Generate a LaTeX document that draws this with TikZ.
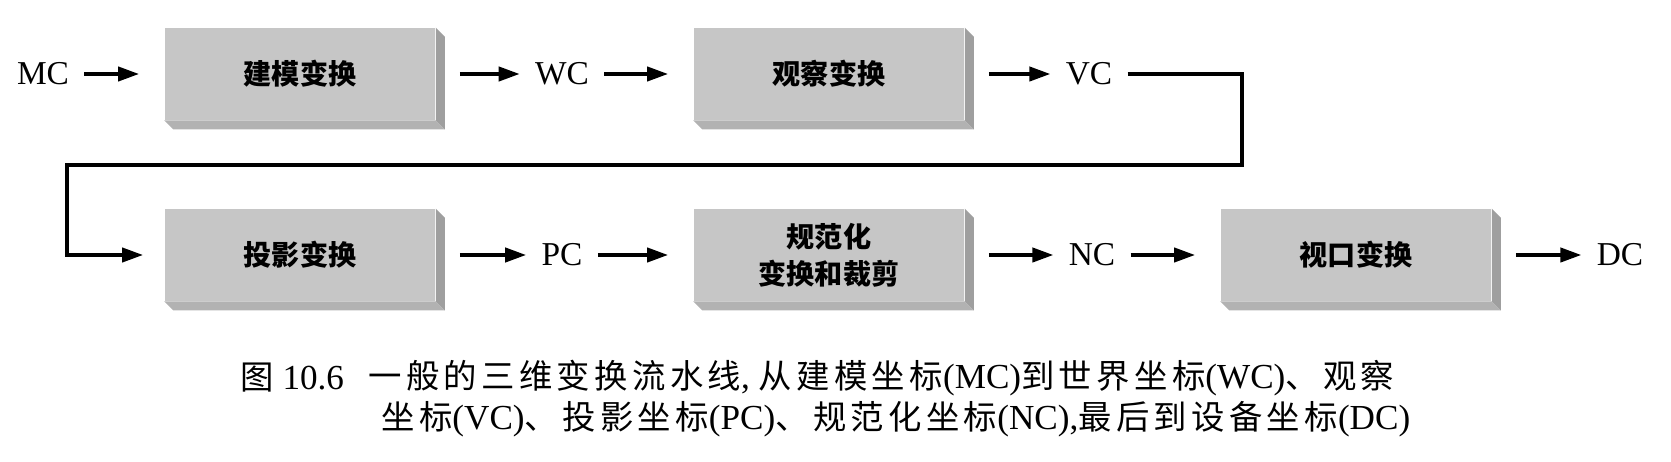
\documentclass[tikz,border=0pt]{standalone}
\usepackage{fontspec}
\setmainfont{Liberation Serif}
\newfontfamily\cjk{Noto Sans CJK SC}
\newfontfamily\capfont{Noto Sans CJK SC}[LetterSpace=13]
\newcommand\lat[1]{{\rmfamily\fontsize{20}{20}\selectfont #1}}
\usetikzlibrary{arrows.meta}

\tikzset{
  trans/.style={fill=gray!45, minimum width=5.42cm, minimum height=1.84cm, inner sep=0pt,
    align=center, font=\cjk\bfseries\fontsize{16}{21}\selectfont},
  coord/.style={inner sep=0.3cm, font=\fontsize{19}{22}\selectfont},
  flow/.style={line width=2.2pt, -{Triangle[length=12pt,width=8pt]}},
  caption/.style={inner sep=0pt, anchor=west, font=\capfont\fontsize{19}{22}\selectfont}
}

\begin{document}
\begin{tikzpicture}[x=0.02cm, y=-0.02cm]
\useasboundingbox (0,0) rectangle (1671,462);
%\draw[help lines, step=100] (0,0) grid (1671,462);
\foreach \x/\y/\n/\t in {300/74/mt/建模变换, 829/74/vt/观察变换, 300/255/pt/投影变换, 829/255/nt/{规范化\\变换和裁剪}, 1356/255/dt/视口变换}
  \node[trans] (\n) at (\x,\y) {\t};
\foreach \b in {mt, vt, pt, nt, dt} {
  \fill[gray!75] (\b.north east) -- ++(9,9) -- ([shift={(9,9)}]\b.south east) -- (\b.south east) -- cycle;
  \fill[gray!60] (\b.south west) -- (\b.south east) -- ([shift={(9,9)}]\b.south east) -- ([shift={(9,9)}]\b.south west) -- cycle;
}
\foreach \x/\y/\n/\t in {43/74/mc/MC, 562/74/wc/WC, 1089/74/vc/VC, 562/255/pc/PC, 1092/255/nc/NC, 1620/255/dc/DC}
  \node[coord] (\n) at (\x,\y) {\t};
\foreach \s/\t in {mc/mt, wc/vt, pc/nt, nc/dt}
  \draw[flow, shorten >=0.5cm] (\s) -- (\t);
\foreach \s/\t in {mt/wc, vt/vc, pt/pc, nt/nc, dt/dc}
  \draw[flow, shorten <=0.48cm] (\s) -- (\t);
\coordinate (tr) at (1242,165);
\coordinate (tl) at (67,165);
\draw[flow, shorten >=0.42cm] (vc) -| (tr) -- (tl) |- (pt);
\node[caption] (fig) at (240,378) {图\lat{ 10.6}};
\node[caption] (cap1) at (368,378) {一般的三维变换流水线\lat{, }从建模坐标\lat{(MC)}到世界坐标\lat{(WC)}、观察};
\node[caption] (cap2) at (381,419) {坐标\lat{(VC)}、投影坐标\lat{(PC)}、规范化坐标\lat{(NC),}最后到设备坐标\lat{(DC)}};
\end{tikzpicture}
\end{document}
